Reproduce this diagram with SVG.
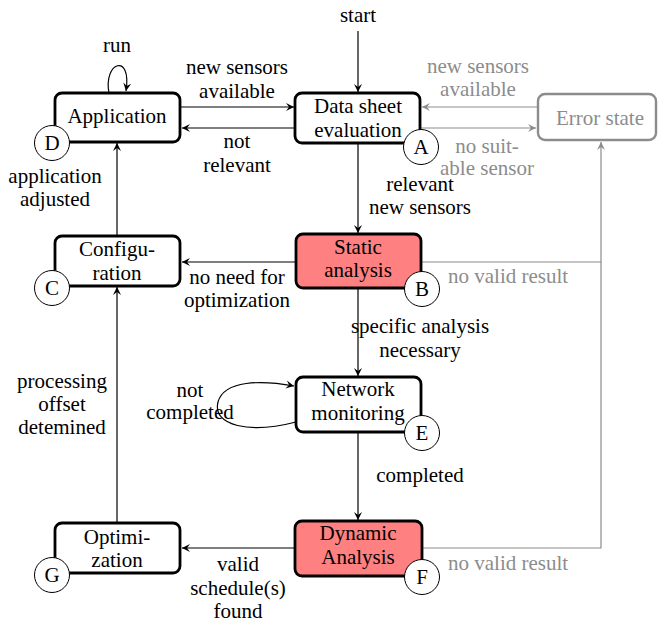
<svg xmlns="http://www.w3.org/2000/svg" width="658" height="622" viewBox="0 0 658 622">
<style>
text{font-family:"Liberation Serif","Times New Roman",serif;font-size:21px;fill:#000;text-anchor:middle}
.g{fill:#8c8c8c}
.st{text-anchor:start}
.box{fill:#fff;stroke:#000;stroke-width:2.8}
.red{fill:#ff8080}
.err{fill:#fff;stroke:#8c8c8c;stroke-width:2.4}
.cir{fill:#fff;stroke:#000;stroke-width:1}
.c{fill:none;stroke:#000;stroke-width:1.2}
.cg{fill:none;stroke:#8c8c8c;stroke-width:1.2}
</style>
<defs>
<marker id="ah" markerUnits="userSpaceOnUse" markerWidth="12" markerHeight="12" viewBox="-10 -6 12 12" refX="0" refY="0" orient="auto"><path d="M0,0 L-8,-4 L-5,0 L-8,4 Z" fill="#000"/></marker>
<marker id="ahg" markerUnits="userSpaceOnUse" markerWidth="12" markerHeight="12" viewBox="-10 -6 12 12" refX="0" refY="0" orient="auto"><path d="M0,0 L-8,-4 L-5,0 L-8,4 Z" fill="#8c8c8c"/></marker>
</defs>
<g id="connectors">
<path class="c" d="M358 31 V92" marker-end="url(#ah)"/>
<text x="358" y="22">start</text>
<path class="c" d="M181 107 H294" marker-end="url(#ah)"/>
<path class="c" d="M295 128 H182" marker-end="url(#ah)"/>
<text x="237" y="74">new sensors</text><text x="237" y="98">available</text>
<text x="237" y="148">not</text><text x="237" y="172">relevant</text>
<path class="c" d="M109 93 C103 62, 132 52, 126 91" marker-end="url(#ah)"/>
<text x="117" y="52">run</text>
<path class="cg" d="M537 107 H422" marker-end="url(#ahg)"/>
<path class="cg" d="M421 128 H536" marker-end="url(#ahg)"/>
<text class="g" x="478" y="73">new sensors</text><text class="g" x="478" y="96">available</text>
<text class="g" x="487" y="153">no suit-</text><text class="g" x="487" y="175">able sensor</text>
<path class="c" d="M358 144 V233" marker-end="url(#ah)"/>
<text x="420" y="191">relevant</text><text x="420" y="214">new sensors</text>
<path class="c" d="M296 262 H182" marker-end="url(#ah)"/>
<text x="237" y="284">no need for</text><text x="237" y="307">optimization</text>
<path class="cg" d="M422 262 H601 V142" marker-end="url(#ahg)"/>
<text class="g st" x="448" y="283">no valid result</text>
<path class="cg" d="M423 548 H601 V262"/>
<text class="g st" x="448" y="570">no valid result</text>
<path class="c" d="M358 289 V376" marker-end="url(#ah)"/>
<text x="420" y="333">specific analysis</text><text x="420" y="357">necessary</text>
<path class="c" d="M358 433 V520" marker-end="url(#ah)"/>
<text x="420" y="482">completed</text>
<path class="c" d="M296 422 C250 434, 212 426, 218 402 C224 380, 262 380, 294 386" marker-end="url(#ah)"/>
<text x="190" y="397">not</text><text x="190" y="419">completed</text>
<path class="c" d="M117 236 V143" marker-end="url(#ah)"/>
<text x="55" y="183">application</text><text x="55" y="206">adjusted</text>
<path class="c" d="M117 523 V287" marker-end="url(#ah)"/>
<text x="62" y="388">processing</text><text x="62" y="411">offset</text><text x="62" y="434">detemined</text>
<path class="c" d="M295 548 H182" marker-end="url(#ah)"/>
<text x="238" y="571">valid</text><text x="238" y="595">schedule(s)</text><text x="238" y="618">found</text>
</g>
<g id="app">
<rect class="box" x="55" y="93" width="125" height="49" rx="7"/>
<text x="117" y="123">Application</text>
<circle class="cir" cx="52" cy="143" r="17.5"/><text x="52" y="150">D</text>
</g>
<g id="datasheet">
<rect class="box" x="295" y="93" width="125" height="50" rx="7"/>
<text x="358" y="113">Data sheet</text><text x="358" y="137">evaluation</text>
<circle class="cir" cx="421" cy="147" r="17.5"/><text x="421" y="154">A</text>
</g>
<g id="error">
<rect class="err" x="538" y="94" width="118" height="46" rx="7"/>
<text class="g" x="600" y="125">Error state</text>
</g>
<g id="static">
<rect class="box red" x="296" y="234" width="125" height="54" rx="7"/>
<text x="358" y="254">Static</text><text x="358" y="277">analysis</text>
<circle class="cir" cx="422" cy="289" r="17.5"/><text x="422" y="296">B</text>
</g>
<g id="config">
<rect class="box" x="55" y="236" width="125" height="50" rx="7"/>
<text x="117" y="256">Configu-</text><text x="117" y="280">ration</text>
<circle class="cir" cx="52" cy="288" r="17.5"/><text x="52" y="295">C</text>
</g>
<g id="network">
<rect class="box" x="296" y="377" width="125" height="55" rx="7"/>
<text x="358" y="396">Network</text><text x="358" y="420">monitoring</text>
<circle class="cir" cx="422" cy="433" r="17.5"/><text x="422" y="440">E</text>
</g>
<g id="dynamic">
<rect class="box red" x="295" y="521" width="127" height="55" rx="7"/>
<text x="358" y="540">Dynamic</text><text x="358" y="564">Analysis</text>
<circle class="cir" cx="422" cy="577" r="17.5"/><text x="422" y="584">F</text>
</g>
<g id="optim">
<rect class="box" x="55" y="523" width="125" height="50" rx="7"/>
<text x="117" y="544">Optimi-</text><text x="117" y="567">zation</text>
<circle class="cir" cx="52" cy="575" r="17.5"/><text x="52" y="582">G</text>
</g>
</svg>
